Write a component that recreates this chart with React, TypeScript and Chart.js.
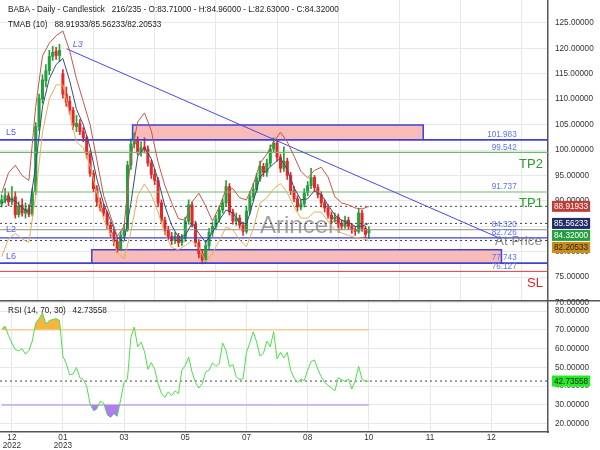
import React, { useEffect, useRef } from "react";
import { Chart, registerables } from "chart.js";

Chart.register(...registerables);

const FONT = "'Liberation Sans', Arial, Helvetica, sans-serif";

// ---------- data ----------
const symbolName = "BABA";
const barPosition = "216/235";
const candleStep = 2; // trading days per drawn candle

const opens = [89.4, 90.2, 91.0, 89.8, 90.8, 87.3, 89.2, 87.6, 88.4, 87.4,
  91.8, 104.6, 110.0, 113.6, 115.6, 118.4, 119.4, 118.6, 115.0, 111.0,
  109.6, 107.8, 104.6, 105.2, 103.6, 102.4, 99.2, 95.4, 92.4, 89.8,
  88.6, 87.6, 85.2, 83.8, 82.0, 80.6, 83.2, 84.4, 97.0, 101.2,
  101.8, 99.6, 100.6, 100.2, 97.4, 95.2, 94.0, 89.6, 86.2, 84.2,
  83.0, 82.2, 83.0, 81.8, 82.6, 86.0, 89.2, 85.4, 81.8, 79.6,
  78.4, 81.2, 83.8, 85.0, 86.4, 88.2, 89.6, 92.8, 87.8, 86.0,
  86.6, 85.2, 84.0, 88.0, 90.8, 92.2, 94.4, 96.8, 95.6, 97.4,
  100.2, 101.4, 98.6, 96.4, 97.8, 95.0, 92.0, 90.4, 88.8, 89.4,
  91.6, 93.0, 94.6, 92.6, 91.2, 89.6, 88.6, 87.2, 86.4, 86.8,
  85.6, 85.0, 86.2, 85.0, 84.4, 84.0, 87.6, 84.6, 83.71];
const closes = [90.2, 91.0, 89.8, 90.6, 87.3, 89.0, 87.6, 88.4, 87.4, 91.8,
  104.6, 110.2, 113.8, 115.6, 118.4, 119.2, 118.6, 119.6, 111.0, 109.4,
  107.8, 104.8, 105.2, 103.6, 102.4, 99.2, 95.4, 92.4, 89.8, 88.6,
  87.6, 85.2, 83.8, 82.0, 80.6, 83.2, 84.4, 97.0, 101.2, 101.8,
  99.6, 100.4, 100.2, 97.4, 95.2, 94.0, 89.6, 86.2, 84.2, 83.0,
  82.2, 83.0, 81.8, 82.6, 86.0, 89.2, 85.4, 81.8, 79.6, 78.4,
  81.2, 83.8, 85.0, 86.4, 88.2, 89.6, 92.8, 87.8, 86.0, 86.6,
  85.2, 84.0, 88.0, 90.8, 92.2, 94.4, 96.8, 95.6, 97.4, 100.2,
  101.4, 98.6, 96.4, 97.8, 95.0, 92.0, 90.4, 88.8, 89.4, 91.6,
  93.0, 94.6, 92.6, 91.2, 89.6, 88.6, 87.2, 86.4, 86.8, 85.6,
  85.0, 86.2, 85.0, 84.4, 84.0, 87.6, 84.6, 83.4, 84.32];
const highs = [91.2, 92.4, 91.6, 92.8, 91.8, 89.8, 90.4, 89.6, 89.2, 92.4,
  105.4, 111.0, 114.8, 116.8, 119.6, 120.4, 120.2, 120.8, 115.8, 112.4,
  110.6, 108.4, 106.8, 106.0, 104.4, 102.8, 99.8, 96.0, 93.0, 90.6,
  89.4, 88.0, 85.8, 84.4, 82.6, 84.0, 85.4, 97.8, 102.2, 103.4,
  102.6, 101.6, 102.4, 100.8, 98.0, 96.2, 94.6, 90.2, 86.8, 85.0,
  83.8, 83.8, 83.6, 83.4, 86.8, 90.2, 89.8, 86.0, 82.4, 80.4,
  82.0, 84.6, 85.8, 87.2, 89.0, 90.4, 94.0, 93.4, 88.4, 87.6,
  87.2, 85.8, 88.8, 91.8, 93.4, 95.4, 97.8, 97.4, 98.2, 101.0,
  102.4, 101.8, 99.2, 100.6, 98.4, 95.6, 92.8, 91.0, 90.2, 92.4,
  93.8, 96.4, 95.0, 93.2, 91.8, 90.2, 89.2, 87.8, 87.6, 87.4,
  86.2, 87.0, 86.8, 85.6, 85.0, 88.4, 88.2, 85.0, 84.96];
const lows = [88.8, 89.6, 89.0, 89.2, 86.6, 86.8, 87.0, 86.6, 86.9, 87.0,
  91.2, 103.8, 109.2, 112.4, 114.8, 117.6, 117.8, 117.4, 110.2, 108.6,
  107.0, 104.0, 103.6, 103.0, 101.6, 98.4, 94.8, 91.8, 89.0, 88.0,
  87.0, 84.6, 83.0, 81.2, 79.8, 80.2, 82.6, 84.0, 96.2, 100.4,
  99.0, 98.8, 99.4, 96.8, 94.4, 93.2, 88.8, 85.6, 83.4, 82.4,
  81.4, 81.6, 81.0, 81.2, 82.0, 85.4, 84.8, 81.0, 78.8, 77.6,
  77.8, 80.6, 83.0, 84.4, 85.8, 87.6, 89.0, 87.2, 85.4, 85.2,
  84.6, 83.2, 83.6, 87.4, 90.0, 91.6, 93.8, 94.8, 94.8, 96.8,
  99.6, 97.8, 95.6, 95.8, 94.2, 91.2, 89.8, 88.0, 88.2, 88.8,
  91.0, 92.4, 91.8, 90.6, 88.8, 87.8, 86.6, 85.6, 85.8, 84.8,
  84.4, 84.6, 84.4, 83.6, 83.2, 83.6, 84.0, 82.8, 82.63];

const tmabPeriod = 10;
const tmabStep = 4; // trading days per band sample
const tmabUpper = [91.5, 95.5, 97.0, 95.0, 94.0, 108.5, 118.5, 121.0, 122.5, 123.4,
  119.5, 114.0, 109.5, 105.0, 98.0, 91.0, 87.0, 83.0, 85.0, 98.6,
  105.5, 107.3, 103.8, 97.6, 93.0, 89.6, 86.5, 86.2, 89.8, 91.5,
  89.0, 86.0, 88.8, 92.3, 92.4, 90.6, 90.2, 93.2, 97.4, 99.2,
  101.6, 103.5, 101.6, 98.8, 95.8, 94.5, 96.0, 96.6, 94.7, 90.8,
  89.6, 89.2, 88.6, 88.4, 88.92];
const tmabMiddle = [89.5, 90.5, 90.0, 88.6, 87.8, 97.0, 108.5, 114.0, 116.8, 118.0,
  113.6, 108.0, 105.0, 100.5, 94.3, 89.4, 86.2, 82.8, 82.0, 89.5,
  98.8, 100.4, 98.3, 94.2, 89.0, 85.2, 82.8, 83.2, 85.6, 83.6,
  81.8, 83.8, 86.2, 88.2, 87.6, 85.8, 85.4, 89.8, 94.7, 96.0,
  97.3, 98.4, 96.2, 92.6, 90.2, 90.4, 92.0, 91.2, 89.2, 87.2,
  86.2, 85.7, 85.0, 85.0, 85.56];
const tmabLower = [79.0, 82.5, 83.6, 82.5, 81.8, 91.0, 103.5, 110.0, 112.8, 112.8,
  107.0, 101.6, 100.4, 96.8, 91.6, 86.3, 83.7, 79.8, 78.6, 83.9,
  91.0, 93.3, 91.2, 87.8, 83.5, 80.8, 80.4, 81.2, 82.2, 80.8,
  78.0, 79.6, 82.2, 84.8, 84.3, 82.3, 81.0, 84.5, 89.6, 90.6,
  92.4, 93.4, 91.6, 88.8, 86.6, 86.6, 87.8, 87.8, 86.0, 84.3,
  83.7, 83.2, 82.8, 82.6, 82.21];
const tmabLast = [88.91933, 85.56233, 82.20533];

const rsiPeriod = 14;
const rsiHigh = 70;
const rsiLow = 30;
const rsiValues = [70.4, 72.0, 67.0, 63.0, 59.5, 58.8, 60.0, 57.0, 59.0, 64.0,
  73.5, 76.0, 79.0, 73.0, 75.0, 75.5, 76.0, 75.0, 56.0, 52.0,
  46.0, 46.5, 50.0, 44.5, 43.5, 40.0, 30.5, 27.0, 28.0, 32.0,
  31.0, 25.0, 23.5, 25.5, 24.0, 33.0, 42.0, 44.0, 66.0, 71.5,
  61.0, 63.5, 58.5, 49.0, 52.5, 49.0, 41.5, 36.0, 34.0, 37.0,
  35.0, 37.5, 36.0, 48.5, 51.0, 55.5, 47.5, 42.0, 39.0, 41.5,
  47.5, 48.5, 52.5, 50.5, 52.0, 63.0, 59.0, 50.5, 51.5, 45.0,
  43.5, 44.0, 58.0, 63.0, 69.0, 63.5, 56.0, 57.5, 64.0, 61.0,
  69.0, 54.5, 58.0, 55.0, 58.0, 48.5, 44.5, 42.0, 43.8, 43.0,
  48.5, 53.0, 54.0, 49.0, 45.0, 42.0, 40.5, 39.0, 37.5, 44.5,
  43.5, 42.5, 43.8, 38.5, 42.9, 50.5, 43.8, 42.5, 42.74];
const rsiLast = 42.73558;

const xTickDays = [6, 36, 72, 108, 144, 180, 216, 252, 288];
const xTickLabels = [["12", "2022"], ["01", "2023"], "03", "05", "07", "08", "10", "11", "12"];
const priceTicks = [70, 75, 80, 85, 90, 95, 100, 105, 110, 115, 120, 125, 130];
const rsiTicks = [20, 30, 40, 50, 60, 70, 80];

const levelL5 = 101.983;
const levelTP2 = 99.542;
const levelTP1 = 91.737;
const levelClose = 84.32;
const levelL2 = 82.726;
const levelL6 = 77.743;
const levelSL = 76.127;
const labelledLevels = [levelL5, levelTP2, levelTP1, levelClose, levelL2, levelL6, levelSL];

const zoneL5Days = [77, 248];
const zoneL5Prices = [101.983, 104.9];
const zoneL6Days = [53, 294];
const zoneL6Prices = [77.743, 80.4];

const trendDays = [38.2, 294.1];
const trendPrices = [119.9, 82.5];

// ---------- helpers ----------
const X_MIN = -1;
const X_MAX = 321.4;
const LAST_DAY = (closes.length - 1) * candleStep;
const UP = "rgb(34,160,60)";
const DOWN = "rgb(228,40,40)";
const BLUE = "rgb(64,64,214)";
const GRID = "#e8e8e8";
const AXIS = "#555";
const SMALL = 8.2;

const pts = (arr: number[], step: number) => arr.map((v, i) => ({ x: i * step, y: v }));
const hSeg = (v: number, x0 = X_MIN, x1 = X_MAX) => [{ x: x0, y: v }, { x: x1, y: v }];

function lineDs(data: any[], color: string, width: number, order: number, dash: number[] = []) {
  return {
    type: "line",
    data,
    borderColor: color,
    borderWidth: width,
    borderDash: dash,
    pointRadius: 0,
    pointHoverRadius: 0,
    fill: false,
    tension: 0,
    order,
  };
}

function zoneBorder(days: number[], prices: number[]) {
  return lineDs(
    [
      { x: days[0], y: prices[0] },
      { x: days[0], y: prices[1] },
      { x: days[1], y: prices[1] },
      { x: days[1], y: prices[0] },
    ],
    BLUE,
    1.5,
    5
  );
}
function zoneFill(days: number[], prices: number[]) {
  return {
    type: "line",
    data: [{ x: days[0], y: prices[1] }, { x: days[1], y: prices[1] }],
    borderColor: "rgba(0,0,0,0)",
    borderWidth: 0,
    pointRadius: 0,
    backgroundColor: "rgb(249,186,186)",
    fill: { target: { value: prices[0] } },
    order: 6,
  };
}

function drawBadge(ctx: CanvasRenderingContext2D, x: number, yc: number, text: string, bg: string, fg: string) {
  ctx.font = `${SMALL}px ${FONT}`;
  const w = ctx.measureText(text).width + 4;
  ctx.fillStyle = bg;
  ctx.fillRect(x, yc - 5.5, w, 11);
  ctx.fillStyle = fg;
  ctx.textAlign = "left";
  ctx.textBaseline = "middle";
  ctx.fillText(text, x + 2, yc + 0.5);
}

function xScale(showLabels: boolean, height: number) {
  return {
    type: "linear",
    min: X_MIN,
    max: X_MAX,
    offset: false,
    afterBuildTicks: (s: any) => {
      s.ticks = xTickDays.map((v) => ({ value: v }));
    },
    ticks: {
      display: showLabels,
      autoSkip: false,
      maxRotation: 0,
      padding: 2,
      color: "#333",
      font: { size: SMALL, family: FONT, lineHeight: 0.95 },
      callback: (_v: any, i: number) => xTickLabels[i],
    },
    grid: { color: GRID, drawTicks: false },
    border: showLabels ? { color: AXIS, width: 1.5 } : { display: false },
    afterFit: (s: any) => {
      s.height = height;
      s.paddingLeft = 0;
      s.paddingRight = 0;
    },
  };
}

function yScale(min: number, max: number, ticks: number[]) {
  return {
    position: "right",
    min,
    max,
    afterBuildTicks: (s: any) => {
      s.ticks = ticks.map((v) => ({ value: v }));
    },
    ticks: {
      autoSkip: false,
      padding: 7,
      color: "#333",
      font: { size: SMALL, family: FONT },
      callback: (v: any) => Number(v).toFixed(5),
    },
    grid: { color: GRID, drawTicks: false },
    border: { color: AXIS, width: 1.5 },
    afterFit: (s: any) => {
      s.width = 52;
      s.paddingTop = 0;
      s.paddingBottom = 0;
    },
  };
}

// ---------- main chart ----------
const mainDecor = {
  id: "mainDecor",
  beforeDatasetsDraw(chart: any) {
    const ctx = chart.ctx;
    ctx.save();
    ctx.font = `24px ${FONT}`;
    ctx.fillStyle = "rgba(100,100,100,0.6)";
    ctx.textAlign = "left";
    ctx.textBaseline = "middle";
    ctx.fillText("Arincen", 260, 226);
    ctx.restore();
  },
  afterDatasetsDraw(chart: any) {
    const { ctx, scales } = chart;
    const x = scales.x;
    const y = scales.y;
    ctx.save();
    ctx.textBaseline = "middle";
    ctx.font = `${SMALL}px ${FONT}`;
    ctx.fillStyle = "rgb(96,116,232)";
    ctx.textAlign = "right";
    const lx = x.getPixelForValue(303);
    labelledLevels.forEach((v) => ctx.fillText(v.toFixed(3), lx, y.getPixelForValue(v) - 5));
    const rx = x.getPixelForValue(318.4);
    ctx.font = `13px ${FONT}`;
    ctx.fillStyle = "rgb(40,160,40)";
    ctx.fillText("TP2", rx, y.getPixelForValue(levelTP2) + 12);
    ctx.fillText("TP1", rx, y.getPixelForValue(levelTP1) + 11);
    ctx.fillStyle = "rgb(222,36,36)";
    ctx.fillText("SL", rx, y.getPixelForValue(levelSL) + 12);
    ctx.font = `13.4px ${FONT}`;
    ctx.fillStyle = "rgba(120,120,120,0.85)";
    ctx.fillText("At Price", rx - 1, y.getPixelForValue(trendPrices[1]) + 2);
    ctx.textAlign = "left";
    ctx.font = `9px ${FONT}`;
    ctx.fillStyle = "rgb(90,100,230)";
    ctx.fillText("L5", 6, y.getPixelForValue(levelL5) - 7);
    ctx.fillText("L2", 6, y.getPixelForValue(levelL2) - 8);
    ctx.fillText("L6", 6, y.getPixelForValue(levelL6) - 7);
    ctx.font = `italic 9px ${FONT}`;
    ctx.fillText("L3", x.getPixelForValue(trendDays[0]) + 6, y.getPixelForValue(trendPrices[0]) - 4);
    ctx.restore();
  },
  afterDraw(chart: any) {
    const { ctx, scales, chartArea } = chart;
    const y = scales.y;
    ctx.save();
    ctx.font = `${SMALL}px ${FONT}`;
    ctx.fillStyle = "#222";
    ctx.textAlign = "left";
    ctx.textBaseline = "middle";
    const n = closes.length - 1;
    ctx.fillText(
      `${symbolName} - Daily - Candlestick   ${barPosition} - O:${opens[n].toFixed(5)} - H:${highs[n].toFixed(5)} - L:${lows[n].toFixed(5)} - C:${closes[n].toFixed(5)}`,
      8,
      10
    );
    ctx.fillText(`TMAB (${tmabPeriod})   ${tmabLast.map((v) => v.toFixed(5)).join("/")}`, 8, 25);
    const items = [
      { v: tmabLast[0], bg: "rgb(190,62,54)", fg: "#fff" },
      { v: tmabLast[1], bg: "rgb(34,44,104)", fg: "#fff" },
      { v: closes[n], bg: "rgb(36,160,64)", fg: "#fff" },
      { v: tmabLast[2], bg: "rgb(204,140,24)", fg: "#222" },
    ];
    let prev = -100;
    items.forEach((it) => {
      let yc = y.getPixelForValue(it.v);
      if (yc < prev + 12) yc = prev + 12;
      prev = yc;
      drawBadge(ctx, chartArea.right + 4, yc, it.v.toFixed(5), it.bg, it.fg);
    });
    ctx.restore();
  },
};

function mainConfig(): any {
  return {
    type: "line",
    data: {
      datasets: [
        lineDs(pts(tmabUpper, tmabStep), "rgb(196,86,74)", 1, 1),
        lineDs(pts(tmabMiddle, tmabStep), "rgb(58,76,122)", 1, 1),
        lineDs(pts(tmabLower, tmabStep), "rgb(226,176,86)", 1, 1),
        lineDs(trendDays.map((d, i) => ({ x: d, y: trendPrices[i] })), "rgb(72,72,226)", 1, 2),
        lineDs(hSeg(levelL5), BLUE, 1.6, 2),
        lineDs(hSeg(levelTP2), "rgb(110,186,110)", 1.2, 2),
        lineDs(hSeg(levelTP1), "rgb(110,186,110)", 1.2, 2),
        lineDs(hSeg(tmabLast[0]), "#444", 1, 2, [2, 3]),
        lineDs(hSeg(tmabLast[1]), "#444", 1, 2, [2, 3]),
        lineDs(hSeg(levelClose), "rgb(140,140,140)", 1, 2),
        lineDs(hSeg(levelL2), BLUE, 1.3, 2),
        lineDs(hSeg(tmabLast[2]), "#444", 1, 2, [2, 3]),
        lineDs(hSeg(levelL6), BLUE, 1.6, 2),
        lineDs(hSeg(levelSL), "rgb(224,60,60)", 1, 2),
        {
          type: "bar",
          data: closes.map((c, j) => ({ x: j * candleStep, y: [opens[j], c] })),
          backgroundColor: (c: any) => (closes[c.dataIndex] >= opens[c.dataIndex] ? UP : DOWN),
          borderWidth: 0,
          barThickness: 2.4,
          grouped: false,
          order: 3,
        },
        {
          type: "bar",
          data: closes.map((_c, j) => ({ x: j * candleStep, y: [lows[j], highs[j]] })),
          backgroundColor: (c: any) => (closes[c.dataIndex] >= opens[c.dataIndex] ? UP : DOWN),
          borderWidth: 0,
          barThickness: 1,
          grouped: false,
          order: 4,
        },
        zoneBorder(zoneL5Days, zoneL5Prices),
        zoneBorder(zoneL6Days, zoneL6Prices),
        zoneFill(zoneL5Days, zoneL5Prices),
        zoneFill(zoneL6Days, zoneL6Prices),
      ],
    },
    options: {
      animation: false,
      responsive: false,
      maintainAspectRatio: false,
      layout: { padding: 0 },
      plugins: { legend: { display: false }, tooltip: { enabled: false } },
      events: [],
      scales: {
        x: xScale(false, 6),
        y: yScale(70.5, 129.5, priceTicks),
      },
    },
    plugins: [mainDecor],
  };
}

// ---------- RSI chart ----------
const rsiDecor = {
  id: "rsiDecor",
  afterDraw(chart: any) {
    const { ctx, scales, chartArea } = chart;
    ctx.save();
    ctx.strokeStyle = AXIS;
    ctx.lineWidth = 1.5;
    ctx.beginPath();
    ctx.moveTo(0, 0.75);
    ctx.lineTo(chart.width, 0.75);
    ctx.stroke();
    ctx.font = `${SMALL}px ${FONT}`;
    ctx.fillStyle = "#222";
    ctx.textAlign = "left";
    ctx.textBaseline = "middle";
    ctx.fillText(`RSI (${rsiPeriod}, ${rsiHigh}, ${rsiLow})   ${rsiLast.toFixed(5)}`, 8, 11);
    drawBadge(ctx, chartArea.right + 4, scales.y.getPixelForValue(rsiLast), rsiLast.toFixed(5), "rgb(34,236,34)", "#222");
    ctx.restore();
  },
};

function rsiConfig(): any {
  const rsiPts = pts(rsiValues, candleStep);
  return {
    type: "line",
    data: {
      datasets: [
        {
          type: "line",
          data: rsiPts,
          borderColor: "rgb(74,224,74)",
          borderWidth: 1,
          pointRadius: 0,
          tension: 0,
          backgroundColor: "rgba(0,0,0,0)",
          fill: { target: { value: rsiHigh }, above: "rgb(243,182,66)", below: "rgba(0,0,0,0)" },
          segment: {
            borderColor: (c: any) =>
              c.p0.parsed.y < rsiLow && c.p1.parsed.y < rsiLow ? "rgb(112,124,204)" : undefined,
          },
          order: 1,
        },
        {
          type: "line",
          data: rsiPts,
          borderColor: "rgba(0,0,0,0)",
          borderWidth: 0,
          pointRadius: 0,
          tension: 0,
          backgroundColor: "rgba(0,0,0,0)",
          fill: { target: { value: rsiLow }, above: "rgba(0,0,0,0)", below: "rgb(176,126,238)" },
          order: 2,
        },
        lineDs(hSeg(rsiHigh, 0, LAST_DAY), "rgb(250,210,150)", 1.5, 3),
        lineDs(hSeg(rsiLow, 0, LAST_DAY), "rgb(198,164,240)", 1.5, 3),
        lineDs(hSeg(rsiLast), "#444", 1, 3, [2, 3]),
      ],
    },
    options: {
      animation: false,
      responsive: false,
      maintainAspectRatio: false,
      layout: { padding: 0 },
      plugins: { legend: { display: false }, tooltip: { enabled: false } },
      events: [],
      scales: {
        x: xScale(true, 18),
        y: yScale(15.6, 85.9, rsiTicks),
      },
    },
    plugins: [rsiDecor],
  };
}

export default function App() {
  const mainRef = useRef<HTMLCanvasElement>(null);
  const rsiRef = useRef<HTMLCanvasElement>(null);

  useEffect(() => {
    const main = new Chart(mainRef.current as HTMLCanvasElement, mainConfig());
    const rsi = new Chart(rsiRef.current as HTMLCanvasElement, rsiConfig());
    return () => {
      main.destroy();
      rsi.destroy();
    };
  }, []);

  return (
    <div style={{ position: "absolute", left: 0, top: 0, width: 600, height: 450, background: "#fff", overflow: "hidden" }}>
      <canvas
        ref={rsiRef}
        width={600}
        height={150}
        style={{ position: "absolute", left: 0, top: 300, width: 600, height: 150, zIndex: 1 }}
      />
      <canvas
        ref={mainRef}
        width={600}
        height={306}
        style={{ position: "absolute", left: 0, top: 0, width: 600, height: 306, zIndex: 2 }}
      />
    </div>
  );
}
